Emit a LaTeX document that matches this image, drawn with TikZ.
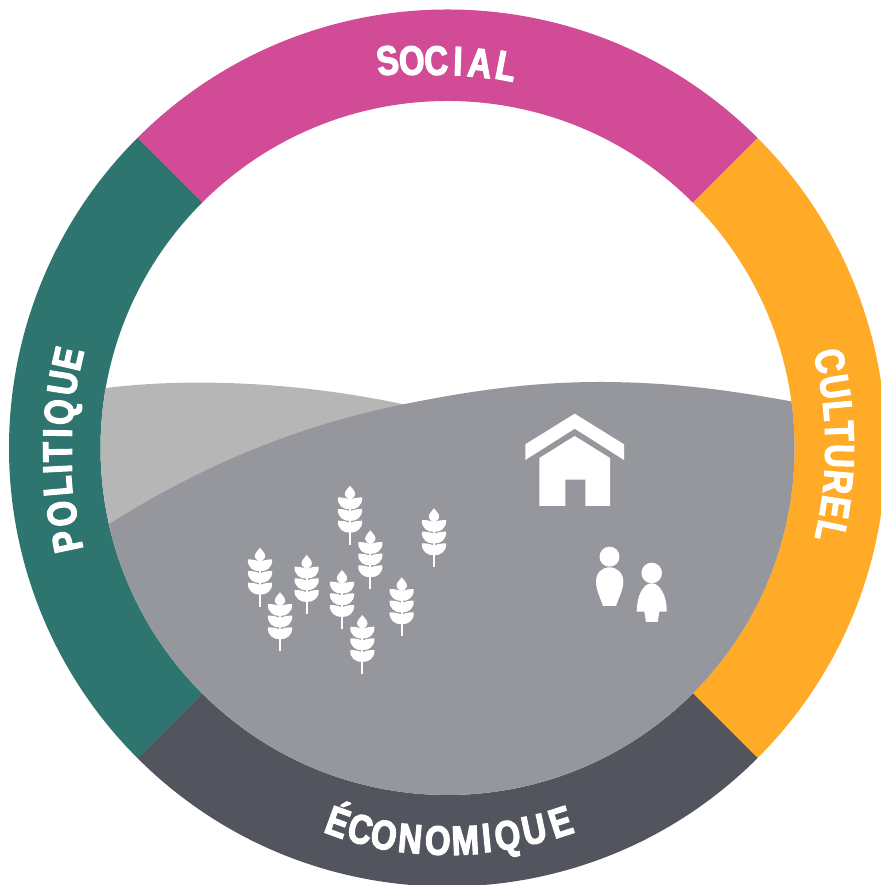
\documentclass[tikz,border=0pt]{standalone}
\usepackage{fontspec}
\newfontfamily\lab[FakeStretch=0.8,FakeBold=3]{Liberation Sans Bold}
\definecolor{cSocial}{HTML}{D14B96}
\definecolor{cCult}{HTML}{FFAB27}
\definecolor{cPol}{HTML}{2E7570}
\definecolor{cEco}{HTML}{52545E}
\definecolor{cMid}{HTML}{96979C}
\definecolor{cLight}{HTML}{B6B6B6}
\tikzset{
  letter/.style={anchor=base,inner sep=0pt,outer sep=0pt,text=white,font=\lab\fontsize{41}{41}\selectfont},
  wheat/.pic={
    \fill[white] (0,0) .. controls (-2,3) and (-5.2,5) .. (-5.2,8.5) .. controls (-5.2,11) and (-2,13) .. (0,14.5)
       .. controls (2,13) and (5.2,11) .. (5.2,8.5) .. controls (5.2,5) and (2,3) .. (0,0) -- cycle;
    \foreach \d in {11.7,23.3,35}{
      \fill[white] (-0.7,\d+2) .. controls (-4,\d+0.6) and (-8,\d) .. (-12,\d)
         .. controls (-13,\d+8) and (-6,\d+12.3) .. (-0.7,\d+11.9) -- cycle;
      \fill[white] (0.7,\d+2) .. controls (4,\d+0.6) and (8,\d) .. (12,\d)
         .. controls (13,\d+8) and (6,\d+12.3) .. (0.7,\d+11.9) -- cycle;
    }
    \fill[white] (-0.9,14) rectangle (0.9,59);
  }
}
\begin{document}
\begin{tikzpicture}
\useasboundingbox (0,0) rectangle (881pt,885pt);
\clip (0,0) rectangle (881pt,885pt);
\fill[white] (0,0) rectangle (881pt,885pt);
\begin{scope}[shift={(447.5pt,437pt)}]
  \fill[cSocial] (135:438.5pt) arc[start angle=135,end angle=45,radius=438.5pt] -- (45:347pt) arc[start angle=45,end angle=135,radius=347pt] -- cycle;
  \fill[cCult] (45:438.5pt) arc[start angle=45,end angle=-45,radius=438.5pt] -- (-45:347pt) arc[start angle=-45,end angle=45,radius=347pt] -- cycle;
  \fill[cEco] (-45:438.5pt) arc[start angle=-45,end angle=-135,radius=438.5pt] -- (-135:347pt) arc[start angle=-135,end angle=-45,radius=347pt] -- cycle;
  \fill[cPol] (-135:438.5pt) arc[start angle=-135,end angle=-225,radius=438.5pt] -- (135:347pt) arc[start angle=135,end angle=225,radius=347pt] -- cycle;
\end{scope}
\begin{scope}[x=1pt,y=-1pt,yshift=885pt]
  \begin{scope}
    \clip (447.5,448) circle[radius=347pt];
    \fill[cLight] (95,389.5) .. controls (170,378.5) and (290,378) .. (420,408) -- (420,560) -- (95,560) -- cycle;
    \fill[cMid] (100,530) .. controls (200,465) and (300,425) .. (405,404) .. controls (470,391) and (530,382) .. (600,382)
       .. controls (670,382) and (730,390) .. (800,403) -- (800,800) -- (100,800) -- cycle;
  \end{scope}
  % SOCIAL
  \foreach \x/\y/\r/\c in {389.5/74.5/8/S,413/74.7/5/O,436.7/74.8/2/C,457.5/75.3/-2/I,478.5/77.2/-6/A,503.5/80/-11/L}
    \node[letter,rotate=\r] at (\x,\y) {\c};
  % POLITIQUE
  \foreach \x/\y/\r/\c in {81/538.3/102/P,76/511.7/98/O,71.7/485/95/L,71.7/468.3/93/I,71.7/451.7/91/T,71.7/433.3/89/I,73.3/413.3/85/Q,76.7/385/81/U,81.7/361.7/77/E}
    \node[letter,rotate=\r] at (\x,\y) {\c};
  % CULTUREL
  \foreach \x/\y/\r/\c in {816/364/-77.4/C,820.9/389/-81.2/U,823.8/411.7/-84.6/L,825.2/431.7/-87.6/T,825.4/455.7/-91/U,824/480.7/-95/R,821.2/505/-98.5/E,817/528.3/-102/L}
    \node[letter,rotate=\r] at (\x,\y) {\c};
  % ECONOMIQUE
  \foreach \x/\y/\r/\c in {333/835.5/-20/É,357/843/-14/C,381.5/849/-10/O,409/852.7/-5.2/N,437.5/854.7/-1.3/O,466/854.5/2.7/M,488/852/5.6/I,509.5/849.3/8.4/Q,537/843.3/12/U,565/835.5/18/E}
    \node[letter,rotate=\r] at (\x,\y) {\c};
  \pic at (350,485.7) {wheat};
  \pic at (370.3,530.3) {wheat};
  \pic at (434,508.3) {wheat};
  \pic at (260,547.7) {wheat};
  \pic at (306.7,555) {wheat};
  \pic at (280,592.3) {wheat};
  \pic at (342,570) {wheat};
  \pic at (401.7,577.3) {wheat};
  \pic at (362.3,615) {wheat};
  % house
  \fill[white] (574.7,413.7) -- (624,444.3) -- (624,460) -- (574.7,428.7) -- (525.3,460) -- (525.3,444.3) -- cycle;
  \fill[white] (574.7,436) -- (610,458) -- (610,506) -- (585.3,506) -- (585.3,479.7) -- (565.3,479.7) -- (565.3,506) -- (539.3,506) -- (539.3,458) -- cycle;
  % people
  \fill[white] (609.5,556.7) circle[radius=10pt];
  \fill[white] (609.5,567.3) .. controls (617,567.3) and (623.3,573) .. (623.3,581.5)
     .. controls (623.3,590) and (619,597) .. (616,606) -- (603,606)
     .. controls (600,597) and (596,590) .. (596,581.5) .. controls (596,573) and (602,567.3) .. (609.5,567.3) -- cycle;
  \fill[white] (651.7,573) circle[radius=10.3pt];
  \fill[white] (651.7,583.3) .. controls (660,583.3) and (667,596) .. (666.7,611.7) -- (659.3,611.7) -- (657.7,622) -- (646,622) -- (644.3,611.7) -- (636.7,611.7)
     .. controls (636.7,596) and (643,583.3) .. (651.7,583.3) -- cycle;
\end{scope}
\end{tikzpicture}
\end{document}
